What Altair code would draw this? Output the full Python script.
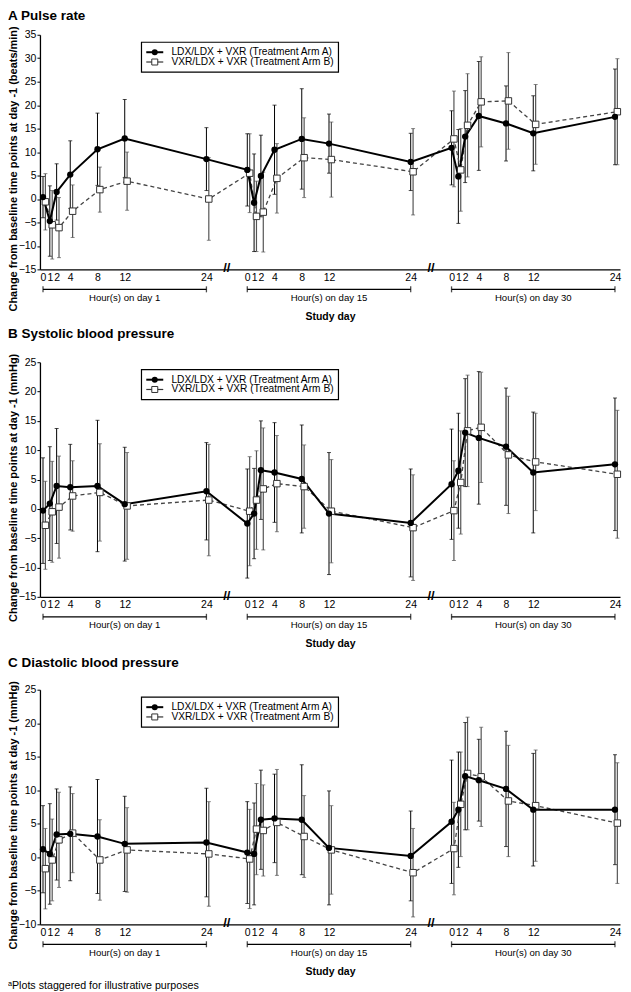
import altair as alt
import pandas as pd

# ---------------- data ----------------
HOURS = [0, 1, 2, 4, 8, 12, 24]
DAYS = [1, 15, 30]
DAY_OFFSET = [0, 30, 60]          # position of hour 0 of each study day on the broken axis
STAGGER = 0.35                    # Arm B plotted slightly to the right
SERIES = ["LDX/LDX + VXR (Treatment Arm A)", "VXR/LDX + VXR (Treatment Arm B)"]

# Pulse rate (beats/min): day 1, day 15, day 30 (7 hours each)
pulse_a_mean = [0.4, -4.7, 1.5, 5.2, 10.6, 12.9, 8.5, 6.2, -0.8, 4.9, 10.5, 12.8, 11.8, 7.9, 10.9, 4.8, 13.3, 17.7, 16.1, 14.0, 17.5]
pulse_a_sd = [4.4, 7.5, 6.0, 7.2, 7.7, 8.3, 6.7, 7.7, 10.4, 8.7, 9.5, 10.7, 6.3, 6.1, 7.9, 10.0, 9.8, 11.6, 8.0, 8.0, 10.2]
pulse_b_mean = [-0.6, -5.5, -6.1, -2.6, 2.0, 3.8, 0.0, 5.5, -3.7, -2.8, 4.4, 8.8, 8.4, 5.8, 12.8, 6.2, 15.7, 20.7, 20.9, 15.9, 18.6]
pulse_b_sd = [6.0, 7.3, 6.4, 5.6, 4.8, 6.2, 8.8, 8.4, 7.5, 8.5, 7.4, 8.5, 8.0, 9.2, 10.2, 8.8, 11.0, 9.6, 10.3, 8.5, 11.3]

# Systolic blood pressure (mmHg)
sbp_a_mean = [-0.3, 0.9, 3.9, 3.7, 3.9, 0.8, 3.0, -2.5, -0.8, 6.6, 6.2, 5.1, -0.8, -2.4, 4.2, 6.5, 13.0, 12.1, 10.6, 6.2, 7.6]
sbp_a_sd = [9.0, 9.7, 9.8, 7.3, 11.2, 9.7, 8.3, 9.3, 7.7, 8.4, 8.5, 9.2, 10.4, 9.2, 9.4, 9.8, 9.2, 11.3, 10.0, 10.3, 11.3]
sbp_b_mean = [-2.8, -0.5, 0.3, 2.2, 2.8, 0.5, 1.5, -0.4, 1.5, 3.4, 4.3, 3.8, -0.4, -3.2, -0.3, 4.5, 13.3, 13.9, 9.2, 8.0, 5.9]
sbp_b_sd = [7.5, 8.6, 8.7, 6.0, 8.3, 9.1, 9.5, 9.3, 8.4, 10.4, 8.2, 7.1, 8.8, 9.0, 8.5, 8.8, 9.5, 9.4, 10.0, 8.3, 10.9]

# Diastolic blood pressure (mmHg)
dbp_a_mean = [1.2, 0.5, 3.4, 3.5, 3.1, 2.0, 2.2, 0.7, 0.5, 5.6, 5.8, 5.6, 1.4, 0.2, 5.3, 7.1, 12.1, 11.5, 10.2, 7.1, 7.1]
dbp_a_sd = [6.5, 7.5, 6.8, 7.0, 8.5, 7.1, 8.1, 7.6, 7.6, 7.4, 6.6, 8.2, 8.5, 6.7, 9.2, 8.6, 8.0, 6.1, 8.6, 8.4, 8.2]
dbp_b_mean = [-1.7, -0.4, 2.6, 3.6, -0.4, 1.1, 0.5, -0.25, 4.2, 4.0, 5.2, 3.1, 1.1, -2.3, 1.3, 7.9, 12.5, 12.0, 8.4, 7.7, 5.1]
dbp_b_sd = [6.0, 6.1, 7.1, 5.9, 6.0, 6.3, 7.8, 7.4, 6.8, 6.8, 7.9, 6.1, 6.6, 6.6, 6.9, 7.8, 8.4, 7.4, 8.3, 8.3, 9.0]

FOOTNOTE = "\u1d43Plots staggered for illustrative purposes"
FONT = "Liberation Sans"

# ---------------- helpers ----------------
W, H = 581, 235
X_DOMAIN = [-0.45, 84.74]
TICK_POS = [off + h for off in DAY_OFFSET for h in HOURS]


def make_df(a_mean, a_sd, b_mean, b_sd):
    rows = []
    for s, (means, sds, shift) in enumerate([(a_mean, a_sd, 0.0), (b_mean, b_sd, STAGGER)]):
        for i, (m, sd) in enumerate(zip(means, sds)):
            d = i // len(HOURS)
            h = HOURS[i % len(HOURS)]
            rows.append(dict(series=SERIES[s], day=DAYS[d], hour=h,
                             pos=DAY_OFFSET[d] + h + shift,
                             mean=m, lo=m - sd, hi=m + sd))
    return pd.DataFrame(rows)


brackets = pd.DataFrame({
    "start": DAY_OFFSET,
    "end": [o + 24 for o in DAY_OFFSET],
    "mid": [o + 12 for o in DAY_OFFSET],
    "label": [f"Hour(s) on day {d}" for d in DAYS],
})
caps = pd.DataFrame({"p": DAY_OFFSET + [o + 24 for o in DAY_OFFSET]})
breaks = pd.DataFrame({"p": [(DAY_OFFSET[i] + 24 + DAY_OFFSET[i + 1]) / 2 for i in range(len(DAY_OFFSET) - 1)],
                       "t": ["//", "//"]})


def panel(df, title, ytitle, ymin, ymax, title_y, footnote=False):
    xscale = alt.Scale(domain=X_DOMAIN, nice=False, zero=False)
    yscale = alt.Scale(domain=[ymin, ymax], nice=False, zero=False)
    xaxis = alt.Axis(values=TICK_POS,
                     labelExpr="datum.value >= 60 ? datum.value - 60 : (datum.value >= 30 ? datum.value - 30 : datum.value)",
                     ticks=False, tickSize=0, labelPadding=3, grid=False,
                     domainColor="black", domainWidth=1.3,
                     labelFontSize=10.5, labelColor="black", labelFont=FONT,
                     labelOverlap=False, labelFlush=False, labelBound=False,
                     title="Study day", titleFontSize=10.5, titleFontWeight="bold",
                     titleColor="black", titleFont=FONT, titleY=47, titleBaseline="middle")
    yaxis = alt.Axis(values=list(range(ymin, ymax + 1, 5)), grid=False,
                     tickSize=3, tickColor="black", domainColor="black", domainWidth=1.3,
                     labelFontSize=10.5, labelColor="black", labelFont=FONT, labelPadding=1,
                     title=ytitle, titleFontSize=11, titleFontWeight="bold", titleColor="black",
                     titleFont=FONT, titleAngle=270, titleAlign="right", titleBaseline="top",
                     titleX=-32, titleY=-9, titleLimit=600)

    base = alt.Chart(df)
    A = alt.datum.series == SERIES[0]
    B = alt.datum.series == SERIES[1]
    x = alt.X("pos:Q", scale=xscale, axis=xaxis)

    def bars(cond, color, width):
        b = base.transform_filter(cond)
        r = b.mark_rule(color=color, strokeWidth=width).encode(
            x=x, y=alt.Y("lo:Q", scale=yscale, axis=yaxis), y2="hi:Q")
        t1 = b.mark_tick(color=color, orient="horizontal", size=4, thickness=1).encode(
            x=x, y=alt.Y("lo:Q", scale=yscale, axis=yaxis))
        t2 = b.mark_tick(color=color, orient="horizontal", size=4, thickness=1).encode(
            x=x, y=alt.Y("hi:Q", scale=yscale, axis=yaxis))
        return [r, t1, t2]

    y = alt.Y("mean:Q", scale=yscale, axis=yaxis)
    line_b = base.transform_filter(B).mark_line(color="#444", strokeWidth=1.3, strokeDash=[4, 3]).encode(x=x, y=y)
    line_a = base.transform_filter(A).mark_line(color="black", strokeWidth=2).encode(x=x, y=y)
    pts_b = base.transform_filter(B).mark_point(shape="square", size=42, fill="white", stroke="#333",
                                                strokeWidth=1, opacity=1, fillOpacity=1).encode(x=x, y=y)
    pts_a = base.transform_filter(A).mark_point(shape="circle", size=40, filled=True, color="black",
                                                opacity=1).encode(x=x, y=y)

    # legend box (drawn inside the plot, top-left)
    one = alt.Chart(pd.DataFrame({"series": [SERIES[0]]}))
    two = alt.Chart(pd.DataFrame({"series": [SERIES[1]]}))
    leg_box = one.mark_rect(fill="white", stroke="black", strokeWidth=1.2).encode(
        x=alt.value(101.7), x2=alt.value(299), y=alt.value(7.5), y2=alt.value(37.5))
    leg_line_a = one.mark_rule(color="black", strokeWidth=2).encode(
        x=alt.value(106.5), x2=alt.value(123.5), y=alt.value(17.5))
    leg_pt_a = one.mark_point(shape="circle", size=36, filled=True, color="black", opacity=1).encode(
        x=alt.value(115), y=alt.value(17.5))
    leg_txt_a = one.mark_text(align="left", baseline="middle", fontSize=10.2, font=FONT, color="black").encode(
        x=alt.value(131.7), y=alt.value(17.5), text="series:N")
    leg_line_b = two.mark_rule(color="#333", strokeWidth=1.2).encode(
        x=alt.value(106.5), x2=alt.value(123.5), y=alt.value(27.3))
    leg_pt_b = two.mark_point(shape="square", size=36, fill="white", stroke="#333", strokeWidth=1,
                              opacity=1, fillOpacity=1).encode(x=alt.value(115), y=alt.value(27.3))
    leg_txt_b = two.mark_text(align="left", baseline="middle", fontSize=10.2, font=FONT, color="black").encode(
        x=alt.value(131.7), y=alt.value(27.3), text="series:N")

    br = alt.Chart(brackets)
    bracket_rule = br.mark_rule(color="black", strokeWidth=1.3).encode(
        x=alt.X("start:Q", scale=xscale, axis=xaxis), x2="end:Q", y=alt.value(H + 20))
    bracket_caps = alt.Chart(caps).mark_tick(color="black", orient="vertical", size=6, thickness=1.3).encode(
        x=alt.X("p:Q", scale=xscale, axis=xaxis), y=alt.value(H + 20))
    bracket_text = br.mark_text(fontSize=9.6, font=FONT, color="black", baseline="middle").encode(
        x=alt.X("mid:Q", scale=xscale, axis=xaxis), y=alt.value(H + 28.5), text="label:N")
    break_text = alt.Chart(breaks).mark_text(fontSize=13, font=FONT, color="black", baseline="middle",
                                             fontWeight="bold").encode(
        x=alt.X("p:Q", scale=xscale, axis=xaxis), y=alt.value(H - 1), text="t:N")

    title_text = alt.Chart(pd.DataFrame({"t": [title]})).mark_text(
        fontSize=13.5, fontWeight="bold", font=FONT, color="black", align="left", baseline="alphabetic").encode(
        x=alt.value(-32), y=alt.value(title_y), text="t:N")

    layers = bars(B, "#555", 1.2) + bars(A, "black", 1.0) + [
        line_b, line_a, pts_b, pts_a,
        leg_box, leg_line_a, leg_pt_a, leg_txt_a, leg_line_b, leg_pt_b, leg_txt_b,
        bracket_rule, bracket_caps, bracket_text, break_text, title_text]
    if footnote:
        layers.append(alt.Chart(pd.DataFrame({"t": [FOOTNOTE]})).mark_text(
            fontSize=10.7, font=FONT, color="black", align="left", baseline="middle").encode(
            x=alt.value(-32), y=alt.value(H + 62), text="t:N"))

    return alt.layer(*layers).properties(width=W, height=H)


pA = panel(make_df(pulse_a_mean, pulse_a_sd, pulse_b_mean, pulse_b_sd), "A Pulse rate",
           "Change from baseline time points at day -1 (beats/min)", -15, 35, -15)
pB = panel(make_df(sbp_a_mean, sbp_a_sd, sbp_b_mean, sbp_b_sd), "B Systolic blood pressure",
           "Change from baseline time points at day -1 (mmHg)", -15, 25, -24)
pC = panel(make_df(dbp_a_mean, dbp_a_sd, dbp_b_mean, dbp_b_sd), "C Diastolic blood pressure",
           "Change from baseline time points at day -1 (mmHg)", -10, 25, -23, footnote=True)

chart = alt.vconcat(pA, pB, pC, spacing=93, bounds="flush", padding=0).configure_view(stroke=None)

chart.save("out.html", embed_options={"renderer": "svg", "actions": False})
